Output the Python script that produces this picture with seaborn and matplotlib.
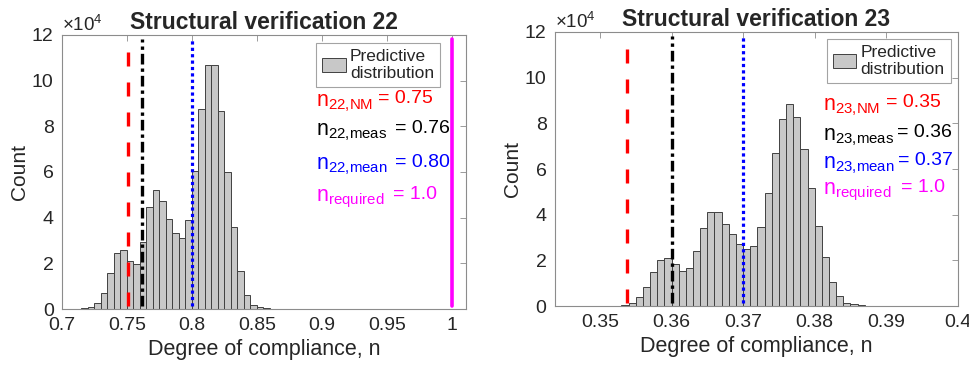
import numpy as np
import pandas as pd
import matplotlib
matplotlib.use("Agg")
import matplotlib.pyplot as plt
import seaborn as sns
from matplotlib.ticker import ScalarFormatter

# =============================
# Data (counts in units of 1e4)
# =============================
# Structural verification 22: bins of width 0.005, left edges
sv22_left_edges = [0.705, 0.710, 0.715, 0.720, 0.725, 0.730, 0.735, 0.740, 0.745,
                   0.750, 0.755, 0.760, 0.765, 0.770, 0.775, 0.780, 0.785, 0.790,
                   0.795, 0.800, 0.805, 0.810, 0.815, 0.820, 0.825, 0.830, 0.835,
                   0.840, 0.845, 0.850, 0.855, 0.860, 0.865]
sv22_counts = [0.005, 0.01, 0.03, 0.07, 0.26, 0.70, 1.57, 2.43, 2.60,
               2.08, 1.97, 2.95, 4.45, 5.22, 4.72, 3.93, 3.33, 3.12,
               3.88, 6.02, 8.76, 10.68, 10.68, 8.67, 6.00, 3.58, 1.68,
               0.62, 0.19, 0.08, 0.03, 0.015, 0.005]
sv22_bin_width = 0.005

# Structural verification 23: bins of width 0.001, left edges
sv23_left_edges = [0.346, 0.347, 0.348, 0.349, 0.350, 0.351, 0.352, 0.353, 0.354,
                   0.355, 0.356, 0.357, 0.358, 0.359, 0.360, 0.361, 0.362, 0.363,
                   0.364, 0.365, 0.366, 0.367, 0.368, 0.369, 0.370, 0.371, 0.372,
                   0.373, 0.374, 0.375, 0.376, 0.377, 0.378, 0.379, 0.380, 0.381,
                   0.382, 0.383, 0.384, 0.385, 0.386, 0.387, 0.388]
sv23_counts = [0.003, 0.003, 0.003, 0.005, 0.005, 0.01, 0.02, 0.05, 0.15,
               0.38, 0.82, 1.47, 2.00, 2.11, 1.82, 1.52, 1.65, 2.39,
               3.40, 4.10, 4.10, 3.61, 3.15, 2.71, 2.51, 2.61, 3.44,
               4.93, 6.68, 8.18, 8.86, 8.28, 6.87, 5.17, 3.50, 2.13,
               1.06, 0.44, 0.15, 0.07, 0.03, 0.01, 0.005]
sv23_bin_width = 0.001

# reference values: (subscript, value text, x position, colour, style)
sv22_lines = [("22{,}NM", "0.75", 0.7505, "#ff0000", "nm"),
              ("22{,}meas", "0.76", 0.7617, "#000000", "meas"),
              ("22{,}mean", "0.80", 0.8000, "#0000ff", "mean"),
              ("required", "1.0", 1.0000, "#ff00ff", "req")]
sv23_lines = [("23{,}NM", "0.35", 0.3538, "#ff0000", "nm"),
              ("23{,}meas", "0.36", 0.3600, "#000000", "meas"),
              ("23{,}mean", "0.37", 0.3700, "#0000ff", "mean"),
              ("required", "1.0", 1.0000, "#ff00ff", "req")]

sv22_xticks = [0.7, 0.75, 0.8, 0.85, 0.9, 0.95, 1.0]
sv22_xticklabels = ["0.7", "0.75", "0.8", "0.85", "0.9", "0.95", "1"]
sv23_xticks = [0.35, 0.36, 0.37, 0.38, 0.39, 0.4]
sv23_xticklabels = ["0.35", "0.36", "0.37", "0.38", "0.39", "0.4"]


class Fixed4Formatter(ScalarFormatter):
    # MATLAB-like exponent: always x10^4
    def _set_order_of_magnitude(self):
        self.orderOfMagnitude = 4

    def _set_format(self):
        self.format = "%d"


# =============================
# Styling
# =============================
sns.set_theme(style="white")
plt.rcParams['font.family'] = ['Liberation Sans', 'DejaVu Sans']
plt.rcParams['mathtext.fontset'] = 'custom'
plt.rcParams['mathtext.rm'] = 'Liberation Sans'
plt.rcParams['mathtext.it'] = 'Liberation Sans'
plt.rcParams['mathtext.default'] = 'regular'

line_styles = {
    "nm": dict(linestyle=(0, (4.2, 4.8)), linewidth=2.4),
    "meas": dict(linestyle=(0, (3.2, 1.2, 1.0, 1.2)), linewidth=2.4),
    "mean": dict(linestyle=(0, (1.0, 1.0)), linewidth=2.3),
    "req": dict(linestyle="-", linewidth=2.6),
}

fig = plt.figure(figsize=(9.7, 3.67), dpi=100)
ax1 = fig.add_axes([0.0639, 0.158, 0.4165, 0.747])
ax2 = fig.add_axes([0.572, 0.166, 0.4155, 0.747])

panels = [
    (ax1, sv22_left_edges, sv22_counts, sv22_bin_width, sv22_lines, (0.7, 1.011),
     sv22_xticks, sv22_xticklabels, "Structural verification 22",
     [0.629, 0.629, 0.629, 0.629], [0.782, 0.824, 0.824, 0.820],
     [0.752, 0.643, 0.519, 0.402], (0.936, 0.972)),
    (ax2, sv23_left_edges, sv23_counts, sv23_bin_width, sv23_lines, (0.3437, 0.4),
     sv23_xticks, sv23_xticklabels, "Structural verification 23",
     [0.665, 0.665, 0.665, 0.665], [0.821, 0.849, 0.851, 0.859],
     [0.727, 0.617, 0.515, 0.416], (0.982, 0.975)),
]

for (ax, edges, counts, bw, lines, xlim, xticks, xticklabels, title,
     nx, eqx, ty, leg_pos) in panels:
    df = pd.DataFrame({
        "n": np.array(edges) + bw / 2,
        "count": np.array(counts) * 1e4,
    })
    bins = list(edges) + [edges[-1] + bw]
    sns.histplot(data=df, x="n", weights="count", bins=bins, ax=ax,
                 color="#c8c8c8", edgecolor="#404040", linewidth=0.7,
                 alpha=1.0, label="Predictive\ndistribution")

    for sub, val, xpos, col, key in lines:
        if xlim[0] <= xpos <= xlim[1]:
            ax.axvline(xpos, ymin=0.012, ymax=0.985, color=col, **line_styles[key])

    ax.set_xlim(*xlim)
    ax.set_ylim(0, 12e4)
    ax.set_xticks(xticks)
    ax.set_xticklabels(xticklabels)
    ax.set_yticks(np.arange(0, 13, 2) * 1e4)
    ax.yaxis.set_major_formatter(Fixed4Formatter(useMathText=True))
    ax.yaxis.get_offset_text().set_fontsize(13.5)
    ax.yaxis.get_offset_text().set_color("#262626")

    ax.tick_params(direction="in", length=4, width=0.6, colors="#262626",
                   labelsize=14, top=True, right=True, pad=6)
    ax.tick_params(axis="both", which="both", color="#8c8c8c")
    for sp in ax.spines.values():
        sp.set_color("#8c8c8c")
        sp.set_linewidth(0.8)

    ax.set_title(title, fontsize=16.5, fontweight="bold", pad=4)
    ax.set_xlabel("Degree of compliance, n", fontsize=15.5, color="#262626", labelpad=3)
    ax.set_ylabel("Count", fontsize=15, color="#262626", labelpad=2)

    leg = ax.legend(loc="upper right", bbox_to_anchor=leg_pos, fontsize=12.5,
                    frameon=True, fancybox=False, handlelength=1.35,
                    handleheight=0.9, handletextpad=0.25, borderpad=0.35,
                    borderaxespad=0)
    leg.get_frame().set_edgecolor("#8c8c8c")
    leg.get_frame().set_linewidth(0.8)

    for i, (sub, val, xpos, col, key) in enumerate(lines):
        ax.text(nx[i], ty[i], r"$n_{%s}$" % sub, transform=ax.transAxes,
                color=col, fontsize=15.5, va="center", ha="left")
        ax.text(eqx[i], ty[i] + 0.015, "= " + val, transform=ax.transAxes,
                color=col, fontsize=14, va="center", ha="left")

fig.savefig("out.png", dpi=100)
